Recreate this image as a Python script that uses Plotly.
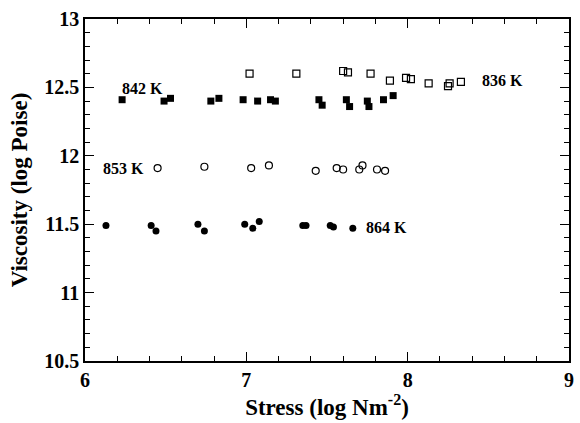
import plotly.graph_objects as go

# 842 K (filled squares)
x_842 = [6.23, 6.49, 6.53, 6.78, 6.83, 6.98, 7.07, 7.15, 7.18, 7.45, 7.47, 7.62, 7.64, 7.75, 7.76, 7.85, 7.91]
y_842 = [12.41, 12.40, 12.42, 12.40, 12.42, 12.41, 12.40, 12.41, 12.40, 12.41, 12.37, 12.41, 12.36, 12.40, 12.36, 12.41, 12.44]

# 836 K (open squares)
x_836 = [7.02, 7.31, 7.60, 7.63, 7.77, 7.89, 7.99, 8.02, 8.13, 8.25, 8.26, 8.33]
y_836 = [12.60, 12.60, 12.62, 12.61, 12.60, 12.55, 12.57, 12.56, 12.53, 12.51, 12.53, 12.54]

# 853 K (open circles)
x_853 = [6.45, 6.74, 7.03, 7.14, 7.43, 7.56, 7.60, 7.70, 7.72, 7.81, 7.86]
y_853 = [11.91, 11.92, 11.91, 11.93, 11.89, 11.91, 11.90, 11.90, 11.93, 11.90, 11.89]

# 864 K (filled circles)
x_864 = [6.13, 6.41, 6.44, 6.70, 6.74, 6.99, 7.04, 7.08, 7.35, 7.37, 7.52, 7.54, 7.66]
y_864 = [11.49, 11.49, 11.45, 11.50, 11.45, 11.50, 11.47, 11.52, 11.49, 11.49, 11.49, 11.48, 11.47]

labels = ["842 K", "836 K", "853 K", "864 K"]
label_x = [6.22, 8.45, 6.10, 7.73]
label_y = [12.49, 12.55, 11.91, 11.477]

SERIF = "Liberation Serif"

fig = go.Figure()
fig.add_trace(go.Scatter(x=x_842, y=y_842, mode="markers",
                         marker=dict(symbol="square", size=7, color="black")))
fig.add_trace(go.Scatter(x=x_836, y=y_836, mode="markers",
                         marker=dict(symbol="square-open", size=7, color="black",
                                     line=dict(width=1.2, color="black"))))
fig.add_trace(go.Scatter(x=x_853, y=y_853, mode="markers",
                         marker=dict(symbol="circle-open", size=7, color="black",
                                     line=dict(width=1.2, color="black"))))
fig.add_trace(go.Scatter(x=x_864, y=y_864, mode="markers",
                         marker=dict(symbol="circle", size=7, color="black")))

for t, lx, ly in zip(labels, label_x, label_y):
    fig.add_annotation(x=lx, y=ly, text=t, showarrow=False, xanchor="left", yanchor="middle",
                       font=dict(family=SERIF, size=16, color="black", weight="bold"))

axis_common = dict(
    showgrid=False, zeroline=False, showline=True, linecolor="black", linewidth=1.5,
    mirror="allticks", ticks="inside", ticklen=9, tickwidth=1.3, tickcolor="black",
    tickfont=dict(family=SERIF, size=20, color="black", weight="bold"),
)

fig.update_layout(
    width=580, height=423,
    margin=dict(l=85, r=6, t=19, b=62),
    paper_bgcolor="white", plot_bgcolor="white",
    showlegend=False,
    xaxis=dict(range=[6, 9], dtick=1, tick0=6,
               minor=dict(dtick=0.2, ticklen=5, ticks="inside", tickcolor="black", tickwidth=1),
               title=dict(text="Stress (log Nm<sup>-2</sup>)", standoff=9,
                          font=dict(family=SERIF, size=23, color="black", weight="bold")),
               **axis_common),
    yaxis=dict(range=[10.5, 13], dtick=0.5, tick0=10.5,
               minor=dict(dtick=0.1, ticklen=5, ticks="inside", tickcolor="black", tickwidth=1),
               title=dict(text="Viscosity (log Poise)", standoff=10,
                          font=dict(family=SERIF, size=23, color="black", weight="bold")),
               **axis_common),
)

fig.write_html("out.html")
